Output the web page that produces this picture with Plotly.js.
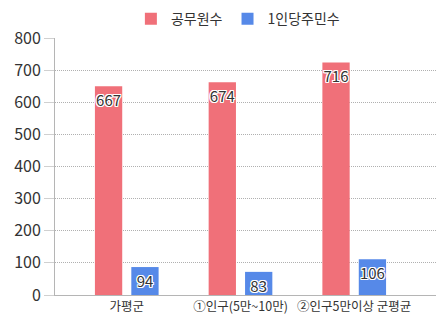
<!DOCTYPE html>
<html>
<head>
<meta charset="utf-8">
<script src="https://cdn.plot.ly/plotly-3.0.1.min.js"></script>
<style>html,body{margin:0;padding:0;background:#fff;}#chart{width:436px;height:322px;}</style>
</head>
<body>
<div id="chart"></div>
<script>
const categories = ["가평군", "①인구(5만~10만)", "②인구5만이상 군평균"];
const seriesNames = ["공무원수", "1인당주민수"];
const officials = [650, 662, 724];
const residentsPerOfficial = [87, 72, 111];
const officialsLabels = ["667", "674", "716"];
const residentsLabels = ["94", "83", "106"];
const yTicks = [0, 100, 200, 300, 400, 500, 600, 700, 800];

const FONT = "'Noto Sans CJK KR', 'Noto Sans', sans-serif";
const shadow = "1px 1px 0 #fff, -1px -1px 0 #fff, 1px -1px 0 #fff, -1px 1px 0 #fff, 0 1px 0 #fff, 0 -1px 0 #fff, 1px 0 0 #fff, -1px 0 0 #fff";

const common = {
  type: "bar",
  x: categories,
  textposition: "inside",
  insidetextanchor: "end",
  textangle: 0,
  constraintext: "none",
  cliponaxis: false,
  textfont: {family: FONT, size: 15, color: "#333", shadow: shadow},
  hoverinfo: "none"
};

const data = [
  Object.assign({}, common, {name: seriesNames[0], y: officials, text: officialsLabels, marker: {color: "#f07079"}}),
  Object.assign({}, common, {name: seriesNames[1], y: residentsPerOfficial, text: residentsLabels, marker: {color: "#5689e8"}})
];

const layout = {
  width: 436, height: 322,
  margin: {l: 55, r: 0, t: 38, b: 27, pad: 0},
  paper_bgcolor: "#fff", plot_bgcolor: "#fff",
  font: {family: FONT, color: "#333", size: 13},
  barmode: "group",
  bargap: 0.36,
  bargroupgap: 0.25,
  showlegend: true,
  legend: {orientation: "h", x: 0.48, xanchor: "center", y: 0.99, yanchor: "top", yref: "container",
           font: {family: FONT, size: 14, color: "#333"}, tracegroupgap: 0},
  xaxis: {
    type: "category", range: [-0.631, 2.719], showgrid: false, zeroline: false,
    showline: true, linecolor: "#b5b5b5", linewidth: 1, ticks: "",
    tickfont: {family: FONT, size: 12.5, color: "#333"}, fixedrange: true
  },
  yaxis: {
    range: [0, 800], tickvals: yTicks, showgrid: true, gridcolor: "#b0b0b0", griddash: "1px,1px",
    zeroline: false, showline: true, linecolor: "#b5b5b5", linewidth: 1,
    ticks: "outside", ticklen: 10, tickcolor: "#d0d0d0",
    tickfont: {family: FONT, size: 16, color: "#333"}, fixedrange: true
  }
};

Plotly.newPlot("chart", data, layout, {displayModeBar: false, staticPlot: true});
</script>
</body>
</html>
